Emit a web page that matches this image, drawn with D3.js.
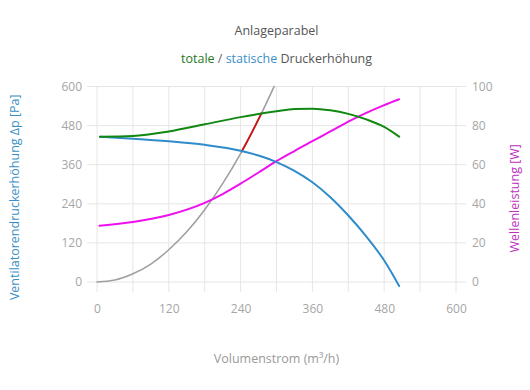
<!DOCTYPE html>
<html><head><meta charset="utf-8">
<script src="https://cdn.jsdelivr.net/npm/d3@7"></script>
<style>
body{margin:0;background:#fff;}
svg text{font-family:"Open Sans","Noto Sans",sans-serif;}
</style></head>
<body><svg id="c" width="530" height="390"></svg>
<script>
// Data
const xTicks = [0,120,240,360,480,600];
const yLeftTicks = [0,120,240,360,480,600];
const yRightTicks = [0,20,40,60,80,100];

const anlageX = [0,30,60,90,120,150,180,210,240,270,296];
const anlageY = [0,6,25,55,99,154,222,302,394,499,600];

const opX = [242,250,260,275];
const opY = [401,428,463,518];

const staticX = [5,60,120,180,240,270,300,330,360,390,420,450,480,505];
const staticY = [446,440,432,421,403,388,368,341,306,260,204,140,66,-12];

const totalX = [5,60,120,180,240,300,330,360,390,420,450,480,505];
const totalY = [446,448,462,484,506,524,531,532,527,516,499,476,446];

const powerX = [4,60,120,180,210,240,270,300,330,360,390,420,450,480,505];
const powerW = [28.8,30.7,34.3,40.5,45,50.3,56,61.8,67,72,77,82,86.5,90.5,93.5];

const svg = d3.select("#c");
const L=97, R=456, T=86.5, B=282;
const x = d3.scaleLinear().domain([0,600]).range([L,R]);
const y = d3.scaleLinear().domain([0,600]).range([B,T]);
const y2 = d3.scaleLinear().domain([0,100]).range([B,T]);
const grid="#e6e6e6", tickCol="#a6a6a6";

// grid
const g = svg.append("g");
d3.range(0,601,60).forEach(v=>{
  g.append("line").attr("x1",x(v)).attr("x2",x(v)).attr("y1",T).attr("y2",B+10)
   .attr("stroke",grid).attr("stroke-width",1);
});
yLeftTicks.forEach(v=>{
  g.append("line").attr("x1",L-10).attr("x2",R+10).attr("y1",y(v)).attr("y2",y(v))
   .attr("stroke",grid).attr("stroke-width",1);
});

// axes via d3
const xAxis = svg.append("g").attr("transform",`translate(0,${B})`)
  .call(d3.axisBottom(x).tickValues(xTicks).tickSize(0).tickPadding(22));
const yAxis = svg.append("g").attr("transform",`translate(${L},0)`)
  .call(d3.axisLeft(y).tickValues(yLeftTicks).tickSize(0).tickPadding(15));
const y2Axis = svg.append("g").attr("transform",`translate(${R},0)`)
  .call(d3.axisRight(y2).tickValues(yRightTicks).tickSize(0).tickPadding(16));
[xAxis,yAxis,y2Axis].forEach(a=>{
  a.select(".domain").remove();
  a.selectAll("text").attr("fill",tickCol).style("font-size","12px")
   .style("font-family","'Open Sans','Noto Sans',sans-serif");
});

const line = d3.line().curve(d3.curveMonotoneX);
function draw(xs,ys,sc,col,w){
  svg.append("path").attr("d",line(xs.map((v,i)=>[x(v),sc(ys[i])])))
    .attr("fill","none").attr("stroke",col).attr("stroke-width",w)
    .attr("stroke-linejoin","round").attr("stroke-linecap","round");
}
draw(anlageX,anlageY,y,"#a0a0a0",1.6);
draw(opX,opY,y,"#cc1111",1.8);
draw(powerX,powerW,y2,"#ee11ee",2);
draw(staticX,staticY,y,"#2f8ccb",2);
draw(totalX,totalY,y,"#118811",2);

// titles
const cx=(L+R)/2;
svg.append("text").attr("x",cx).attr("y",35).attr("text-anchor","middle")
  .attr("fill","#555").style("font-size","12.5px").text("Anlageparabel");
const st = svg.append("text").attr("x",cx).attr("y",63).attr("text-anchor","middle").style("font-size","12.5px");
st.append("tspan").attr("fill","#1f7a1f").text("totale");
st.append("tspan").attr("fill","#666").text(" / ");
st.append("tspan").attr("fill","#3a8fc6").text("statische");
st.append("tspan").attr("fill","#555").text(" Druckerhöhung");

svg.append("text").attr("x",cx).attr("y",363).attr("text-anchor","middle")
  .attr("fill","#999").style("font-size","12.5px").text("Volumenstrom (m³/h)");
svg.append("text").attr("transform",`translate(19,${(T+B+10)/2+8}) rotate(-90)`).attr("text-anchor","middle")
  .attr("fill","#3a8fc6").style("font-size","12.5px").text("Ventilatorendruckerhöhung Δp [Pa]");
svg.append("text").attr("transform",`translate(519,${(T+B+10)/2+9}) rotate(-90)`).attr("text-anchor","middle")
  .attr("fill","#c030c0").style("font-size","12.5px").text("Wellenleistung [W]");
</script></body></html>
